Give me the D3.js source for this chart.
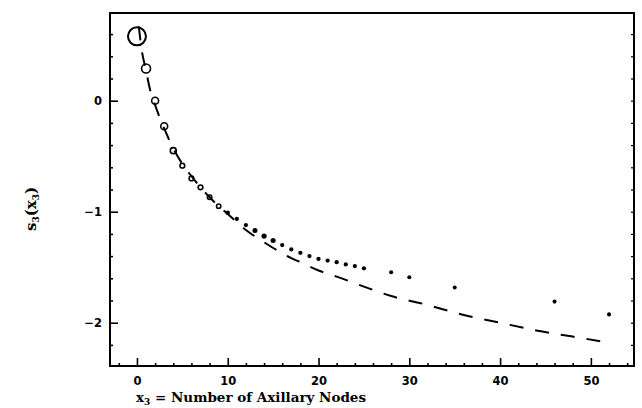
<!DOCTYPE html>
<html><head><meta charset="utf-8">
<script src="https://cdn.jsdelivr.net/npm/d3@7"></script>
<style>body{margin:0;background:#fff}svg{display:block}</style>
</head><body><svg id="chart" width="642" height="408"></svg>
<script>
// observed smoothed scores by number of axillary nodes
const nodesX = [0,1,2,3,4,5,6,7,8,9,10,11,12,13,14,15,16,17,18,19,20,21,22,23,24,25,28,30,35,46,52];
const scoreY = [0.58,0.29,0.0,-0.23,-0.45,-0.585,-0.70,-0.78,-0.87,-0.95,-1.01,-1.065,-1.12,-1.17,-1.22,-1.26,-1.30,-1.34,-1.37,-1.40,-1.425,-1.44,-1.455,-1.475,-1.49,-1.51,-1.545,-1.59,-1.683,-1.81,-1.925];
// relative weight (number of cases) for each observed point
const pointWeight = [81,20,12,12,9,5.5,5.5,5.5,5,4.5,5.5,5,5,7,7.5,7,5,5,5,5,5,5,5,5,5,5,4.5,4.5,4.5,4.5,4.5];
// fitted curve
const curveX = [0.2,0.5,1,1.5,2,2.5,3,4,5,6,7,8,9,10,12,14,16,18,20,22,25,28,32,36,40,44,48,52];
const curveY = [0.67,0.47,0.27,0.08,-0.04,-0.15,-0.25,-0.43,-0.57,-0.68,-0.78,-0.87,-0.95,-1.02,-1.165,-1.275,-1.375,-1.455,-1.53,-1.585,-1.675,-1.76,-1.84,-1.93,-2.0,-2.07,-2.125,-2.18];
const xTicks = [0,10,20,30,40,50];
const yTicks = [0,-1,-2];
const xMinor = d3.range(-2, 55, 2);
const yMinor = d3.range(-22, 8, 2).map(v => v / 10);

const svg = d3.select("#chart");
const L = 110, R = 634, T = 13, B = 366;
const x = d3.scaleLinear().domain([-2.97, 54.75]).range([L, R]);
const y = d3.scaleLinear().domain([-2.39, 0.79]).range([B, T]);
const tickFont = "DejaVu Sans, Liberation Sans, sans-serif";
const titleFont = "DejaVu Serif, Liberation Serif, serif";

// frame
svg.append("rect").attr("x", L).attr("y", T).attr("width", R - L).attr("height", B - T)
  .attr("fill", "none").attr("stroke", "#000").attr("stroke-width", 2);

// bottom axis (inward ticks)
const xAxisMinor = d3.axisBottom(x).tickValues(xMinor.filter(v => v % 10 !== 0)).tickSize(-3).tickFormat("");
const xAxisMajor = d3.axisBottom(x).tickValues(xTicks).tickSize(-8).tickPadding(11).tickFormat(d3.format("d"));
[xAxisMinor, xAxisMajor].forEach(ax => {
  const g = svg.append("g").attr("transform", `translate(0,${B})`).call(ax);
  g.select(".domain").remove();
  g.selectAll("line").attr("stroke", "#000").attr("stroke-width", 1.6);
  g.selectAll("text").attr("font-family", tickFont)
    .attr("font-weight", "bold").attr("font-size", 11.5).attr("fill", "#000");
});

// left axis (inward ticks)
const yAxisMinor = d3.axisLeft(y).tickValues(yMinor.filter(v => Math.abs(v - Math.round(v)) > 1e-6)).tickSize(-3).tickFormat("");
const yAxisMajor = d3.axisLeft(y).tickValues(yTicks).tickSize(-8).tickPadding(8)
  .tickFormat(d => d < 0 ? "\u2212" + Math.abs(d) : String(d));
[yAxisMinor, yAxisMajor].forEach(ax => {
  const g = svg.append("g").attr("transform", `translate(${L},0)`).call(ax);
  g.select(".domain").remove();
  g.selectAll("line").attr("stroke", "#000").attr("stroke-width", 1.6);
  g.selectAll("text").attr("font-family", tickFont)
    .attr("font-weight", "bold").attr("font-size", 11.5).attr("fill", "#000");
});

// right axis small mirrored ticks
const yRight = d3.axisRight(y).tickValues(yMinor).tickSize(-3).tickFormat("");
const gr = svg.append("g").attr("transform", `translate(${R},0)`).call(yRight);
gr.select(".domain").remove();
gr.selectAll("line").attr("stroke", "#000").attr("stroke-width", 1.2);

// fitted dashed curve
const curvePts = curveX.map((cx, i) => [cx, curveY[i]]);
svg.append("path").datum(curvePts)
  .attr("d", d3.line().x(d => x(d[0])).y(d => y(d[1])).curve(d3.curveMonotoneX))
  .attr("fill", "none").attr("stroke", "#000").attr("stroke-width", 2)
  .attr("stroke-dasharray", "14,12");

// observed points
const r = d3.scaleSqrt().domain([0, 81]).range([0, 9]);
const pts = nodesX.map((nx, i) => ({x: nx, y: scoreY[i], w: pointWeight[i]}));
svg.append("g").selectAll("circle").data(pts).join("circle")
  .attr("cx", d => x(d.x)).attr("cy", d => y(d.y))
  .attr("r", d => d.x < 10 ? r(d.w) : r(d.w) * 0.95)
  .attr("fill", d => d.x < 10 ? "none" : "#000")
  .attr("stroke", d => d.x < 10 ? "#000" : "none")
  .attr("stroke-width", d => d.w > 50 ? 2 : 1.6);

// axis titles
const xt = svg.append("text").attr("x", 251).attr("y", 402).attr("text-anchor", "middle")
  .attr("font-family", titleFont).attr("font-weight", "bold")
  .attr("font-size", 13.5).attr("fill", "#000");
xt.append("tspan").text("x");
xt.append("tspan").text("3").attr("font-size", 9).attr("dy", 3);
xt.append("tspan").text(" = Number of Axillary Nodes").attr("dy", -3);

const yt = svg.append("text").attr("transform", "translate(36,209) rotate(-90)").attr("text-anchor", "middle")
  .attr("font-family", titleFont).attr("font-weight", "bold")
  .attr("font-size", 15).attr("fill", "#000");
yt.append("tspan").text("s");
yt.append("tspan").text("3").attr("font-size", 9).attr("dy", 3);
yt.append("tspan").text("(x").attr("dy", -3);
yt.append("tspan").text("3").attr("font-size", 9).attr("dy", 3);
yt.append("tspan").text(")").attr("dy", -3);
</script>
</body></html>
